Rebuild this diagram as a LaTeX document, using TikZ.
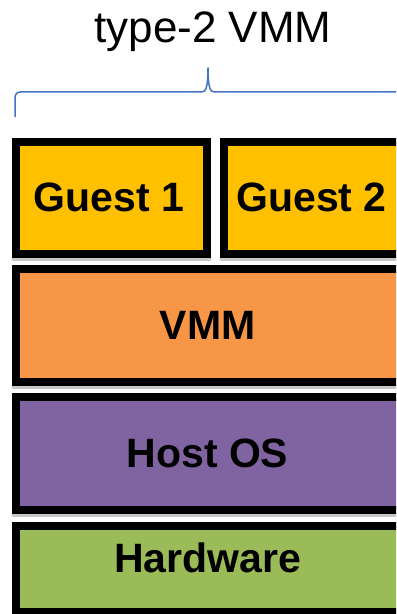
\documentclass[tikz,border=0pt]{standalone}
\usepackage{fontspec}
\setmainfont{Liberation Sans}
\usetikzlibrary{calc}
\definecolor{guestc}{HTML}{FFC000}
\definecolor{vmmc}{HTML}{F79646}
\definecolor{hostc}{HTML}{8064A2}
\definecolor{hwc}{HTML}{9BBB59}
\definecolor{bracec}{HTML}{4472C4}
\definecolor{shadowc}{HTML}{C8C8C8}
\tikzset{
  layer/.style={draw=black, line width=8bp, inner sep=0pt, anchor=north west},
  layertext/.style={font=\bfseries\fontsize{41bp}{48bp}\selectfont, inner sep=0pt},
  layershadow/.style={fill=shadowc},
}
\begin{document}
\begin{tikzpicture}[x=1bp, y=1bp]
  \useasboundingbox (0,0) rectangle (396,614);
  \clip (0,0) rectangle (396,614);

  % heading and brace over the whole stack
  \node[anchor=base, font=\fontsize{44bp}{50bp}\selectfont] (title) at (213,571) {type-2 VMM};
  \draw[bracec, line width=1.5bp, line join=round]
    (15,497) -- (15,516) .. controls (15,520) and (17,522) .. (21,522)
    -- (202,522) .. controls (206,522) and (208,528) .. (208,546)
    .. controls (208,528) and (210,522) .. (214,522)
    -- (405,522) .. controls (409,522) and (411,520) .. (411,516) -- (411,497);

  % layer boxes, placed by their outer top-left corner
  \node[layer, fill=guestc, minimum width=191bp, minimum height=112bp] (g1) at (12,476) {};
  \node[layer, fill=guestc, minimum width=200bp, minimum height=112bp] (g2) at (220,476) {};
  \node[layer, fill=vmmc, minimum width=400bp, minimum height=113bp] (vmm) at (12,349) {};
  \node[layer, fill=hostc, minimum width=400bp, minimum height=113bp] (host) at (12,221) {};
  \node[layer, fill=hwc, minimum width=400bp, minimum height=86bp] (hw) at (12,92) {};

  % layer names
  \node[layertext] (g1label) at (109,417) {Guest 1};
  \node[layertext] (g2label) at (311.5,417) {Guest 2};
  \node[layertext] (vmmlabel) at (207.5,289) {VMM};
  \node[layertext] (hostlabel) at (207.5,160.5) {Host OS};
  \node[layertext] (hwlabel) at (207.5,56) {Hardware};

  % soft shadows under each layer
  \foreach \b in {g1,g2,vmm,host}{
    \fill[layershadow] (\b.south west) rectangle ($(\b.south east)+(0,-3)$);
  }
\end{tikzpicture}
\end{document}
